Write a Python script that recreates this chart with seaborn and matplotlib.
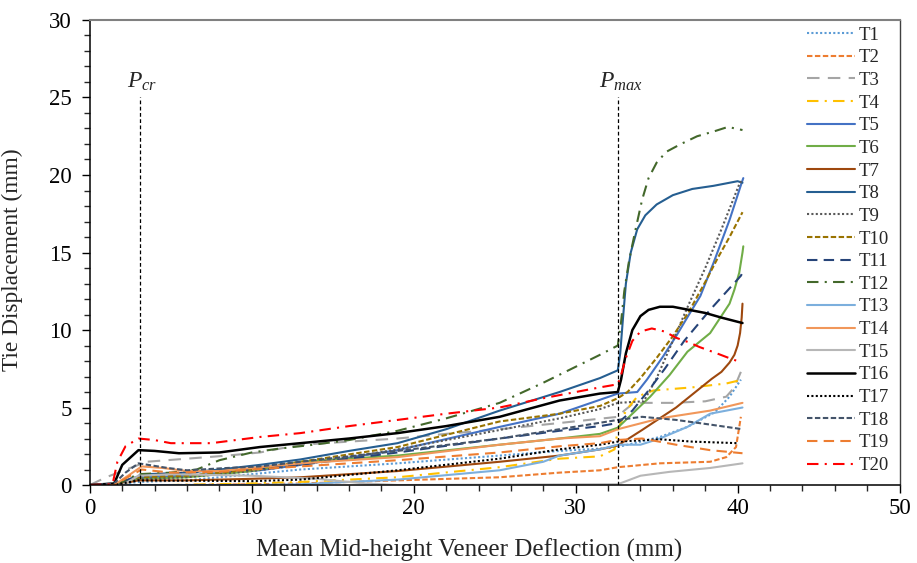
import matplotlib
matplotlib.use('Agg')
import matplotlib.pyplot as plt
import seaborn as sns
from matplotlib.ticker import MultipleLocator

# tie displacement curves
t1_x = [0, 1.5, 3, 6, 10, 13, 19, 25.3, 29, 31.5, 32.6, 35.2, 36.9, 38.6, 39.5, 40.2]
t1_y = [0, 0, 0.2, 0.3, 0.7, 1.0, 1.4, 1.9, 2.2, 2.35, 2.45, 3.1, 3.75, 4.7, 5.7, 6.8]
t2_x = [0, 5, 10, 13, 19, 25.3, 29, 31.5, 32.6, 35.2, 38.3, 39.3, 39.9, 40.2]
t2_y = [0, 0, 0.05, 0.1, 0.3, 0.5, 0.8, 0.95, 1.15, 1.4, 1.5, 1.8, 2.45, 4.4]
t3_x = [0, 0.5, 1, 2, 3.5, 6, 8.5, 10.5, 13, 16, 19, 22, 25.3, 29, 32.6, 33, 33.6, 36, 38, 39.3, 39.8, 40.2]
t3_y = [0, 0.25, 0.5, 0.9, 1.5, 1.7, 1.9, 2.1, 2.6, 2.8, 3.0, 3.3, 3.6, 4.0, 4.4, 4.8, 5.3, 5.3, 5.4, 5.7, 6.3, 7.3]
t4_x = [0, 5, 10, 13, 19, 25.3, 29, 31.5, 32.4, 32.6, 33.1, 33.8, 34.8, 37.2, 39.3, 40.3]
t4_y = [0, 0, 0.1, 0.2, 0.5, 1.15, 1.7, 1.85, 2.3, 3.55, 4.8, 5.7, 6.1, 6.3, 6.55, 6.8]
t5_x = [0, 1.5, 2.5, 3.5, 6, 10.5, 13, 19, 25.3, 29, 31.5, 32.6, 33.8, 34.4, 35.4, 36.2, 37.0, 37.7, 38.5, 39.5, 40.25, 40.35]
t5_y = [0, 0, 0.3, 0.5, 0.6, 0.95, 1.3, 2.25, 3.75, 4.6, 5.5, 5.9, 6.0, 6.8, 8.3, 9.6, 11.0, 12.2, 14.3, 17.1, 19.5, 19.8]
t6_x = [0, 1.5, 3, 6, 10, 13, 19, 25.3, 29, 31.5, 32.6, 33.1, 34.6, 35.8, 36.9, 38.3, 39.5, 39.8, 40.1, 40.3, 40.35]
t6_y = [0, 0, 0.4, 0.5, 0.9, 1.5, 1.9, 2.6, 3.0, 3.3, 3.7, 4.2, 5.7, 7.1, 8.6, 9.8, 11.7, 12.6, 13.7, 15.0, 15.4]
t7_x = [0, 1.5, 3, 6, 10, 13, 19, 25.3, 29, 31.5, 32.6, 34.1, 36.2, 38.4, 39.0, 39.5, 39.8, 40.0, 40.15, 40.25, 40.3]
t7_y = [0, 0, 0.3, 0.3, 0.4, 0.5, 0.9, 1.5, 1.9, 2.3, 2.55, 3.55, 5.0, 6.85, 7.3, 7.9, 8.4, 9.0, 9.8, 10.8, 11.7]
t8_x = [0, 1.5, 2.5, 3.5, 6, 8, 10.5, 13, 16, 19, 22, 25.3, 29, 31.5, 32.6, 32.75, 32.9, 33.1, 33.4, 33.8, 34.3, 35.0, 36.0, 37.2, 38.5, 39.5, 40.0, 40.3]
t8_y = [0, 0, 0.4, 0.7, 0.8, 1.0, 1.3, 1.65, 2.2, 2.7, 3.6, 4.8, 6.0, 6.9, 7.4, 8.5, 10.5, 13.0, 15.0, 16.5, 17.4, 18.1, 18.7, 19.1, 19.3, 19.5, 19.6, 19.5]
t9_x = [0, 1.5, 3, 6, 10, 13, 19, 25.3, 29, 31.5, 32.6, 34.2, 35.0, 36.0, 37.0, 38.0, 39.0, 40.1, 40.3]
t9_y = [0, 0, 0.4, 0.5, 0.9, 1.3, 2.3, 3.55, 4.3, 4.9, 5.3, 5.4, 6.9, 9.3, 11.7, 14.0, 16.5, 19.4, 19.7]
t10_x = [0, 1.5, 3, 6, 10, 13, 19, 25.3, 29, 31.5, 32.6, 33.2, 34.0, 35.0, 36.0, 37.0, 38.0, 38.8, 39.5, 40.3]
t10_y = [0, 0, 0.5, 0.6, 1.0, 1.5, 2.45, 4.1, 4.6, 5.1, 5.6, 6.0, 6.9, 8.2, 9.6, 11.2, 13.1, 14.7, 16.0, 17.6]
t11_x = [0, 1.5, 3, 6, 10, 13, 19, 25.3, 29, 31.5, 32.6, 33.5, 34.5, 35.5, 36.7, 38.3, 40.2, 40.3]
t11_y = [0, 0, 0.6, 0.8, 1.0, 1.3, 2.1, 3.0, 3.5, 3.8, 4.0, 4.8, 6.1, 7.5, 9.3, 11.3, 13.5, 13.7]
t12_x = [0, 1.5, 3, 5, 6.6, 8, 10, 11.7, 13.8, 16, 19, 22, 25.3, 28, 31.5, 32.6, 32.8, 33.0, 33.3, 33.7, 34.1, 34.5, 35.0, 35.6, 36.5, 37.5, 38.5, 39.4, 40.3]
t12_y = [0, 0, 0.7, 0.8, 1.0, 1.6, 2.1, 2.35, 2.6, 2.9, 3.5, 4.3, 5.3, 6.6, 8.4, 9.0, 10.5, 12.5, 14.5, 16.5, 18.4, 19.8, 20.8, 21.5, 22.0, 22.5, 22.8, 23.1, 22.9]
t13_x = [0, 10, 13, 19, 25.3, 28, 29, 31.5, 32.6, 34.0, 35.2, 36.9, 38.3, 40.3]
t13_y = [0, 0, 0.05, 0.35, 0.95, 1.5, 1.9, 2.3, 2.6, 2.6, 3.0, 3.75, 4.6, 5.0]
t14_x = [0, 1.5, 2.5, 3.2, 4.5, 6, 8, 10, 13, 19, 25.3, 29, 31.5, 32.6, 35.2, 38.3, 40.3]
t14_y = [0, 0, 0.7, 1.2, 1.1, 0.9, 0.9, 1.1, 1.4, 1.8, 2.6, 3.0, 3.15, 3.6, 4.3, 4.8, 5.3]
t15_x = [0, 2, 3, 5, 10, 14, 17, 19, 32.6, 34.0, 35.8, 38.3, 40.3]
t15_y = [0, 0, 0.6, 0.7, 0.6, 0.4, 0.1, 0, 0.05, 0.6, 0.85, 1.1, 1.4]
t16_x = [0, 1.5, 2.0, 3.0, 4.0, 5.5, 8.0, 10.5, 13, 16, 19, 22, 25.3, 29, 31.5, 32.6, 32.8, 33.1, 33.5, 34.0, 34.5, 35.2, 36.0, 37.0, 38.0, 39.0, 40.3]
t16_y = [0, 0.1, 1.3, 2.25, 2.2, 2.05, 2.1, 2.45, 2.7, 3.0, 3.35, 3.8, 4.4, 5.45, 5.9, 6.0, 6.8, 8.5, 10.0, 10.9, 11.3, 11.5, 11.5, 11.3, 11.1, 10.8, 10.45]
t17_x = [0, 1.5, 2.5, 3, 10, 13, 19, 25.3, 29, 31.5, 32.6, 35.2, 37.2, 40.0]
t17_y = [0, 0, 0.2, 0.3, 0.25, 0.35, 0.95, 1.7, 2.3, 2.6, 2.8, 2.95, 2.8, 2.7]
t18_x = [0, 1.5, 2.2, 3.0, 4.8, 6.0, 8.5, 10.5, 13, 19, 25.3, 29, 32.6, 34.1, 36.2, 38.3, 40.3]
t18_y = [0, 0.1, 0.8, 1.4, 1.1, 0.95, 1.1, 1.2, 1.5, 2.2, 3.0, 3.6, 4.2, 4.4, 4.2, 3.9, 3.6]
t19_x = [0, 1.5, 2.5, 3.2, 5, 8, 10, 13, 19, 25.3, 29, 31.5, 32.5, 34.1, 36.2, 38.3, 40.3]
t19_y = [0, 0, 0.6, 1.0, 0.8, 0.85, 1.0, 1.2, 1.6, 2.1, 2.5, 2.7, 2.9, 3.0, 2.6, 2.25, 2.05]
t20_x = [0, 1.4, 1.7, 2.2, 3.0, 4.0, 5.0, 7.5, 10.5, 13, 16, 19, 22, 25.3, 28, 31.5, 32.6, 32.8, 33.1, 33.5, 34.0, 34.7, 35.5, 36.2, 37.0, 37.65, 38.7, 39.7, 40.0]
t20_y = [0, 0.05, 1.5, 2.5, 3.0, 2.9, 2.7, 2.7, 3.1, 3.35, 3.8, 4.2, 4.6, 5.0, 5.6, 6.3, 6.5, 7.1, 8.2, 9.3, 9.9, 10.1, 9.9, 9.5, 9.2, 8.9, 8.5, 8.1, 8.0]

labels = ['T%d' % i for i in range(1, 21)]
xs = [t1_x, t2_x, t3_x, t4_x, t5_x, t6_x, t7_x, t8_x, t9_x, t10_x,
      t11_x, t12_x, t13_x, t14_x, t15_x, t16_x, t17_x, t18_x, t19_x, t20_x]
ys = [t1_y, t2_y, t3_y, t4_y, t5_y, t6_y, t7_y, t8_y, t9_y, t10_y,
      t11_y, t12_y, t13_y, t14_y, t15_y, t16_y, t17_y, t18_y, t19_y, t20_y]

pcr_x = 3.1
pmax_x = 32.6
marker_top = 25

colors = ['#5b9bd5', '#ed7d31', '#a5a5a5', '#ffc000', '#4472c4', '#70ad47', '#9e480e', '#255e91',
          '#595959', '#997300', '#264478', '#43682b', '#7cafdd', '#f1975a', '#b7b7b7', '#000000',
          '#000000', '#44546a', '#ed7d31', '#ff0000']
dot = (0, (1, 1.1))
sdash = (0, (2.6, 1.2))
ldash = (0, (5, 3))
dashdot = (0, (5.5, 3, 1, 3))
styles = [dot, sdash, (0, (6, 4)), dashdot, '-', '-', '-', '-',
          dot, sdash, ldash, dashdot, '-', '-', '-', '-',
          dot, sdash, ldash, dashdot]

sns.set_style('ticks')
plt.rcParams['font.family'] = ['Liberation Serif', 'DejaVu Serif']
plt.rcParams['mathtext.fontset'] = 'custom'
plt.rcParams['mathtext.it'] = 'Liberation Serif:italic'
plt.rcParams['mathtext.rm'] = 'Liberation Serif'

fig = plt.figure(figsize=(9.17, 5.63), dpi=100)
ax = fig.add_axes([0.098, 0.1385, 0.883, 0.826])

for x, y, c, ls, lab in zip(xs, ys, colors, styles, labels):
    lw = 1.8 if lab == 'T16' else 1.5
    sns.lineplot(x=x, y=y, ax=ax, color=c, linestyle=ls, linewidth=lw,
                 label=lab, estimator=None, sort=False)

ax.vlines([pcr_x, pmax_x], 0, marker_top, colors='black', linestyles=(0, (3, 2)), linewidth=0.9)
ax.text(pcr_x + 0.15, marker_top + 0.3, r'$P_{cr}$', fontsize=17, ha='center', va='bottom')
ax.text(pmax_x + 0.2, marker_top + 0.3, r'$P_{max}$', fontsize=17, ha='center', va='bottom')

ax.set_xlim(0, 50)
ax.set_ylim(0, 30)
ax.xaxis.set_major_locator(MultipleLocator(10))
ax.xaxis.set_minor_locator(MultipleLocator(2))
ax.yaxis.set_major_locator(MultipleLocator(5))
ax.yaxis.set_minor_locator(MultipleLocator(1))
ax.tick_params(which='major', direction='out', length=6, width=1, labelsize=16.5, colors='black')
ax.tick_params(which='minor', direction='out', length=4, width=1)
ax.tick_params(axis='y', which='major', pad=7)
ax.tick_params(top=False, right=False, which='both')

ax.set_xlabel('Mean Mid-height Veneer Deflection (mm)', fontsize=18)
ax.set_ylabel('Tie Displacement (mm)', fontsize=16.8)
ax.xaxis.set_label_coords(0.469, -0.115)
ax.yaxis.set_label_coords(-0.083, 0.484)

for side in ['left', 'bottom']:
    ax.spines[side].set_color('black')
    ax.spines[side].set_linewidth(1.1)
ax.spines['top'].set_color('#808080')
ax.spines['top'].set_linewidth(1.5)
ax.spines['right'].set_color('#404040')
ax.spines['right'].set_linewidth(1.0)

ax.legend(loc='upper left', bbox_to_anchor=(0.886, 0.986), frameon=False, fontsize=13.5,
          handlelength=2.55, handletextpad=0.2, labelspacing=0.295, borderpad=0, borderaxespad=0)

fig.savefig('out.png', dpi=100)
